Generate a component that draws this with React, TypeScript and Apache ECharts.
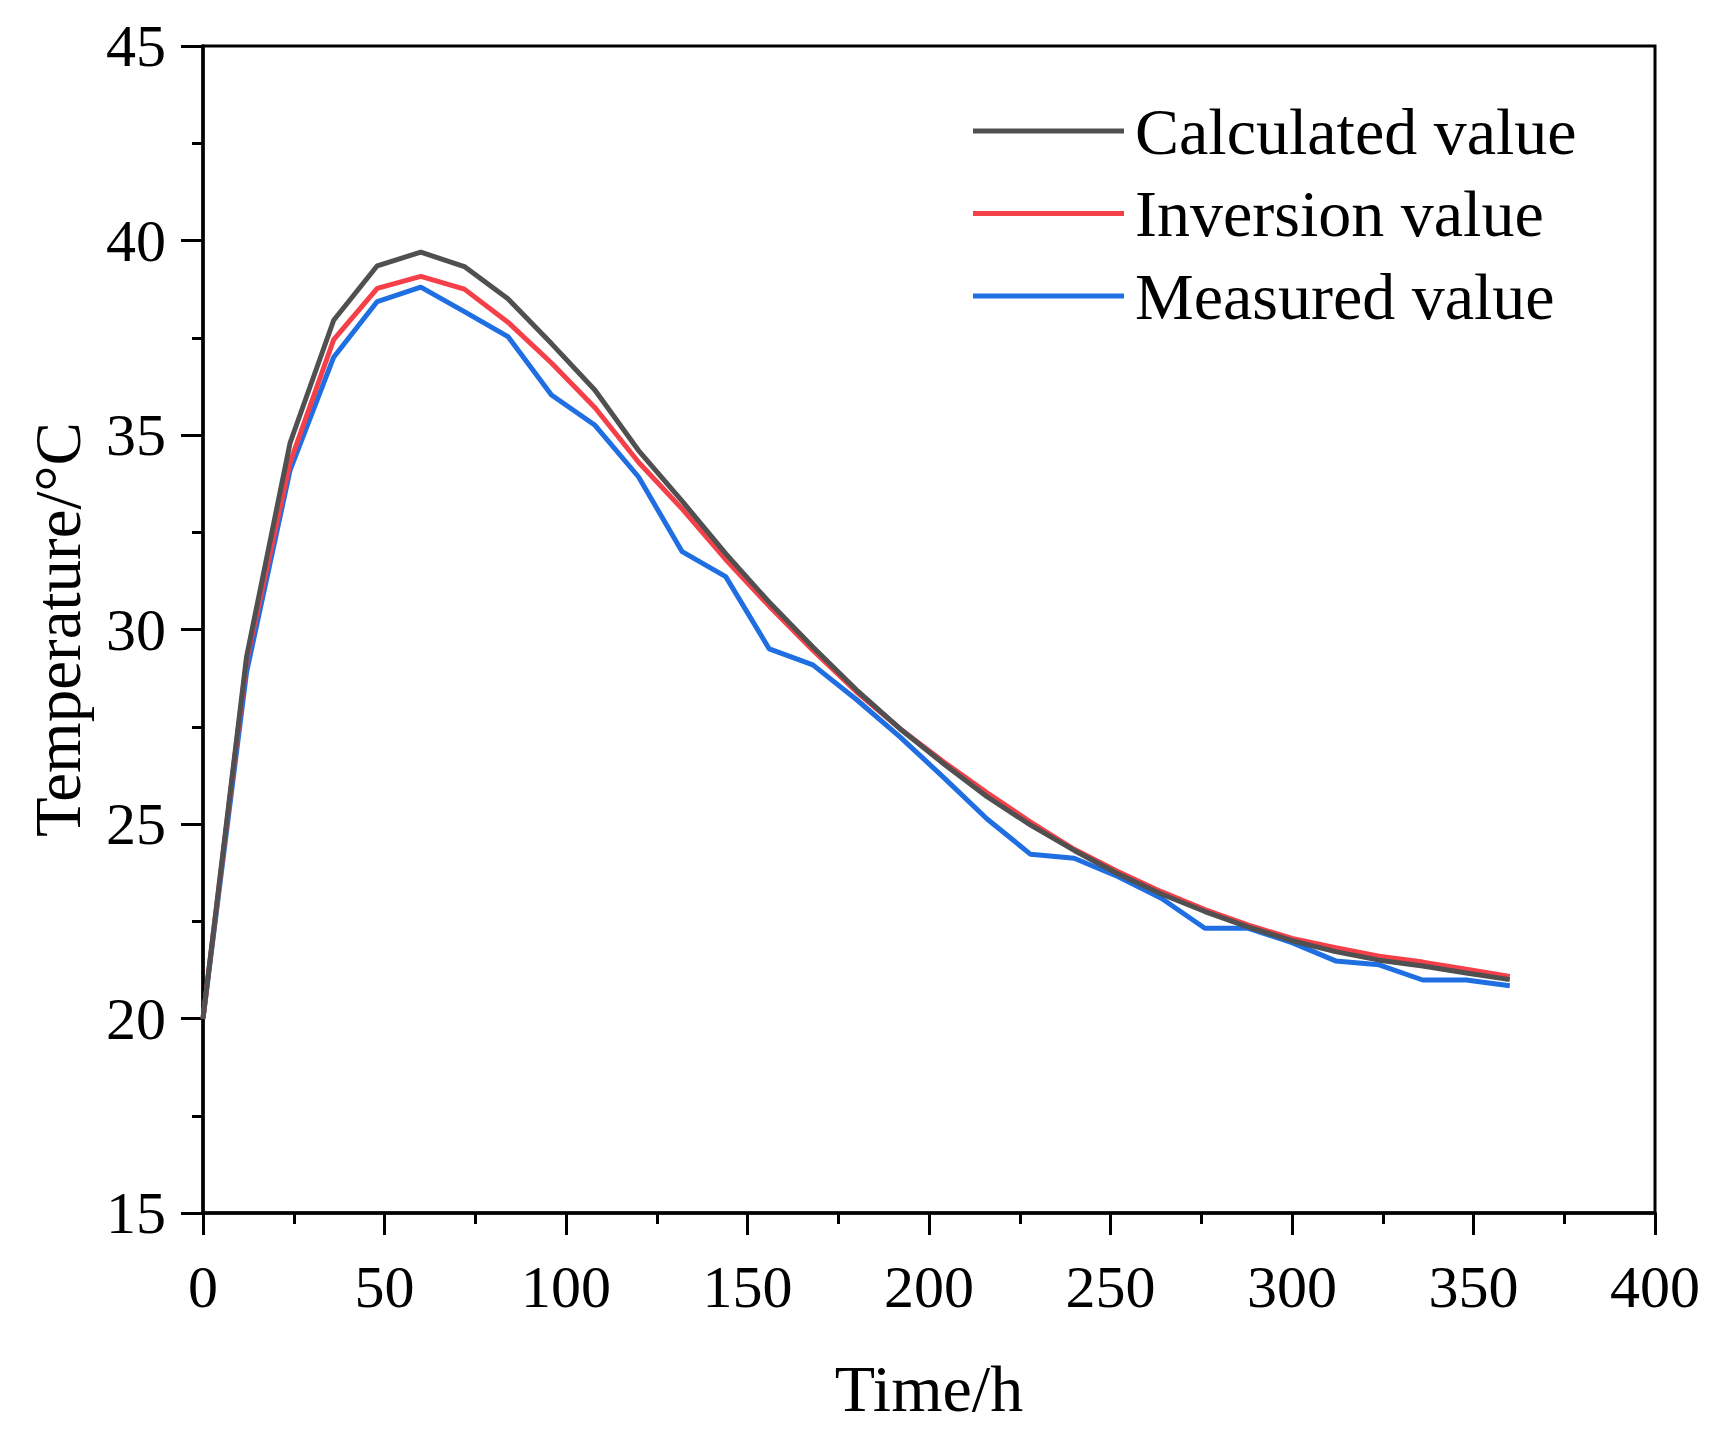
import React, { useEffect, useRef } from "react";
import * as echarts from "echarts";

const times = [0, 12, 24, 36, 48, 60, 72, 84, 96, 108, 120, 132, 144, 156, 168, 180, 192, 204, 216, 228, 240, 252, 264, 276, 288, 300, 312, 324, 336, 348, 360];

const calculated = [20.0, 29.3, 34.8, 37.95, 39.35, 39.7, 39.33, 38.5, 37.35, 36.15, 34.6, 33.3, 31.95, 30.7, 29.55, 28.45, 27.45, 26.55, 25.7, 24.97, 24.32, 23.72, 23.2, 22.75, 22.35, 22.0, 21.72, 21.5, 21.35, 21.17, 21.0];

const inversion = [20.0, 29.2, 34.3, 37.45, 38.77, 39.08, 38.75, 37.9, 36.85, 35.7, 34.3, 33.1, 31.8, 30.6, 29.47, 28.4, 27.45, 26.6, 25.8, 25.05, 24.35, 23.78, 23.26, 22.8, 22.4, 22.06, 21.82, 21.6, 21.45, 21.27, 21.08];

const measured = [20.0, 28.9, 34.1, 37.0, 38.43, 38.8, 38.17, 37.53, 36.03, 35.25, 33.92, 32.0, 31.36, 29.5, 29.09, 28.2, 27.24, 26.2, 25.13, 24.22, 24.12, 23.65, 23.09, 22.32, 22.32, 21.95, 21.48, 21.38, 20.99, 20.99, 20.84];

const seriesNames = ["Calculated value", "Inversion value", "Measured value"];
const seriesColors = ["#505050", "#f5404a", "#1f6fe3"];

const FONT = "'Liberation Serif', 'Times New Roman', serif";

export default function App() {
  const ref = useRef<HTMLDivElement>(null);

  useEffect(() => {
    if (!ref.current) return;
    const chart = echarts.init(ref.current, undefined, { renderer: "svg" });
    const all = [calculated, inversion, measured];
    const option = {
      animation: false,
      backgroundColor: "#ffffff",
      grid: {
        left: 203,
        top: 46,
        width: 1452,
        height: 1167,
        show: true,
        borderColor: "#000",
        borderWidth: 3,
        backgroundColor: "transparent",
      },
      legend: {
        orient: "vertical",
        left: 973,
        top: 98,
        padding: 0,
        itemWidth: 151,
        itemHeight: 5,
        itemGap: 16.5,
        icon: "rect",
        textStyle: {
          fontFamily: FONT,
          fontSize: 66,
          color: "#000",
          lineHeight: 66,
          padding: [0, 0, 0, 6],
        },
        data: seriesNames,
      },
      xAxis: {
        type: "value",
        min: 0,
        max: 400,
        interval: 50,
        name: "Time/h",
        nameLocation: "middle",
        nameGap: 142,
        nameTextStyle: { fontFamily: FONT, fontSize: 66, color: "#000" },
        axisLine: { show: true, lineStyle: { color: "#000", width: 3.5 } },
        axisTick: { show: true, inside: false, length: 22, lineStyle: { color: "#000", width: 3 } },
        minorTick: { show: true, splitNumber: 2, length: 11, lineStyle: { color: "#000", width: 3 } },
        axisLabel: { fontFamily: FONT, fontSize: 60, color: "#000", margin: 44 },
        splitLine: { show: false },
        minorSplitLine: { show: false },
      },
      yAxis: {
        type: "value",
        min: 15,
        max: 45,
        interval: 5,
        name: "Temperature/\u00B0C",
        nameLocation: "middle",
        nameGap: 113,
        nameRotate: 90,
        nameTextStyle: { fontFamily: FONT, fontSize: 65, color: "#000" },
        axisLine: { show: true, lineStyle: { color: "#000", width: 3.5 } },
        axisTick: { show: true, inside: false, length: 22, lineStyle: { color: "#000", width: 3 } },
        minorTick: { show: true, splitNumber: 2, length: 11, lineStyle: { color: "#000", width: 3 } },
        axisLabel: { fontFamily: FONT, fontSize: 60, color: "#000", margin: 37 },
        splitLine: { show: false },
        minorSplitLine: { show: false },
      },
      series: seriesNames.map((name, i) => ({
        name,
        type: "line",
        symbol: "none",
        smooth: false,
        color: seriesColors[i],
        lineStyle: { color: seriesColors[i], width: 5 },
        data: times.map((t, j) => [t, all[i][j]]),
        z: 3 - i,
      })),
    };
    chart.setOption(option as any);
    return () => chart.dispose();
  }, []);

  return (
    <div
      ref={ref}
      style={{ position: "absolute", left: 0, top: 0, width: 1717, height: 1433 }}
    />
  );
}
